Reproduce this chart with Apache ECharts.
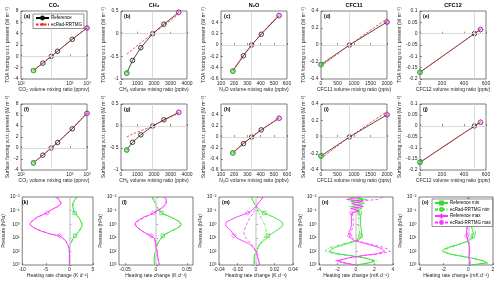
<!DOCTYPE html>
<html><head><meta charset="utf-8">
<script src="https://cdn.jsdelivr.net/npm/echarts@6/dist/echarts.min.js"></script>
<style>html,body{margin:0;padding:0;background:#fff}#c{width:500px;height:284px}</style>
</head><body><div id="c"></div>
<script>
// ---------------- DATA ----------------
const titles = ['CO₂', 'CH₄', 'N₂O', 'CFC11', 'CFC12'];
const xNames = ['CO₂ volume mixing ratio (ppmv)', 'CH₄ volume mixing ratio (ppbv)', 'N₂O volume mixing ratio (ppbv)', 'CFC11 volume mixing ratio (pptv)', 'CFC12 volume mixing ratio (pptv)'];
const hrNames = ['Heating rate change (K d⁻¹)', 'Heating rate change (K d⁻¹)', 'Heating rate change (K d⁻¹)', 'Heating rate change (mK d⁻¹)', 'Heating rate change (mK d⁻¹)'];
const panelLetters = ['(a)','(b)','(c)','(d)','(e)','(f)','(g)','(h)','(i)','(j)','(k)','(l)','(m)','(n)','(o)'];

const co2Conc = [180, 280, 415, 560, 1120, 2240];
const co2Present = 415;
const co2ToaRef = [-2.5, -1.2, 0, 0.9, 3.0, 5.0];
const co2ToaEc = [-2.45, -1.2, 0, 0.9, 3.05, 5.05];
const co2SfcRef = [-2.7, -1.3, 0, 1.0, 3.5, 6.3];
const co2SfcEc = [-2.65, -1.3, 0, 1.05, 3.6, 6.4];

const ch4Conc = [350, 700, 1200, 1921, 2600, 3500];
const ch4Present = 1921;
const ch4ToaRef = [-0.87, -0.59, -0.31, 0, 0.21, 0.47];
const ch4ToaEc = [-0.45, -0.35, -0.2, 0, 0.18, 0.43];
const ch4SfcRef = [-0.545, -0.37, -0.2, 0, 0.14, 0.31];
const ch4SfcEc = [-0.25, -0.18, -0.11, 0, 0.13, 0.29];

const n2oConc = [190, 270, 332, 405, 540];
const n2oPresent = 332;
const n2oToaRef = [-0.46, -0.19, 0, 0.19, 0.52];
const n2oToaEc = [-0.44, -0.18, 0, 0.2, 0.54];
const n2oSfcRef = [-0.29, -0.12, 0, 0.13, 0.34];
const n2oSfcEc = [-0.28, -0.11, 0, 0.13, 0.35];

const cfc11Conc = [0, 862, 2000];
const cfc11Present = 862;
const cfc11ToaRef = [-0.23, 0, 0.27];
const cfc11ToaEc = [-0.25, 0, 0.31];
const cfc11SfcRef = [-0.23, 0, 0.27];
const cfc11SfcEc = [-0.26, 0, 0.31];

const cfc12Conc = [0, 495, 550];
const cfc12Present = 495;
const cfc12ToaRef = [-0.17, 0, 0.018];
const cfc12ToaEc = [-0.17, 0, 0.019];
const cfc12SfcRef = [-0.165, 0, 0.017];
const cfc12SfcEc = [-0.165, 0, 0.018];

// pressure levels (hPa) for heating-rate profiles
const pLev = [0.01,0.015,0.02,0.03,0.05,0.07,0.1,0.15,0.2,0.3,0.5,0.7,1,1.5,2,3,5,7,10,15,20,30,50,70,100,150,200,300,500,700,1000];
const markIdx = [7, 17];

const kRefMin = [1.7,1.2,0.9,0.7,0.7,0.8,0.9,1.1,1.4,1.9,2.3,2.6,2.7,2.6,2.4,2.1,1.6,1.2,0.9,0.6,0.4,0.2,0.05,0,0,0,0,0,0,0,0];
const kEcMin  = [1.5,1.1,0.9,0.8,0.8,0.8,0.9,1.1,1.4,1.9,2.3,2.6,2.7,2.6,2.4,2.1,1.6,1.2,0.9,0.6,0.4,0.2,0.05,0,0,0,0,0,0,0,0];
const kRefMax = [-3.0,-2.3,-1.9,-1.7,-2.4,-3.3,-4.1,-4.7,-5.6,-6.8,-7.7,-8.2,-8.4,-7.9,-7.4,-6.2,-4.3,-2.1,-1.5,-0.9,-0.7,-0.4,-0.15,-0.05,0,0,0,0,0,0,0];
const kEcMax  = [-2.6,-2.0,-1.9,-1.9,-2.6,-3.4,-4.2,-4.8,-5.6,-6.7,-7.6,-8.1,-8.3,-7.9,-7.3,-6.1,-4.3,-2.2,-1.5,-0.9,-0.7,-0.4,-0.15,-0.05,0,0,0,0,0,0,0];

const lRefMin = [-0.007,-0.005,-0.003,-0.001,0.001,0.003,0.005,0.009,0.014,0.024,0.034,0.039,0.041,0.039,0.034,0.026,0.016,0.011,0.009,0.006,0.004,0.002,0.001,0,-0.001,-0.002,-0.002,-0.003,-0.003,-0.002,-0.002];
const lEcMin  = [-0.005,-0.004,-0.002,0,0.002,0.004,0.006,0.010,0.015,0.024,0.033,0.038,0.040,0.038,0.034,0.026,0.017,0.012,0.009,0.006,0.004,0.002,0.001,0,-0.001,-0.002,-0.002,-0.002,-0.003,-0.002,-0.002];
const lRefMax = [0.014,0.017,0.018,0.016,0.012,0.008,0.002,-0.004,-0.010,-0.020,-0.028,-0.033,-0.034,-0.032,-0.029,-0.023,-0.015,-0.008,-0.003,-0.002,-0.001,0,0,0.001,0.002,0.002,0.002,0.003,0.004,0.005,0.006];
const lEcMax  = [0.012,0.016,0.018,0.017,0.013,0.009,0.003,-0.003,-0.009,-0.018,-0.026,-0.031,-0.033,-0.032,-0.029,-0.024,-0.016,-0.009,-0.004,-0.002,-0.001,0,0,0.001,0.002,0.002,0.002,0.003,0.004,0.005,0.005];

const mRefMin = [-0.005,-0.004,-0.003,-0.002,0,0.002,0.005,0.009,0.013,0.019,0.025,0.028,0.029,0.028,0.026,0.022,0.017,0.013,0.012,0.009,0.007,0.004,0.002,0.001,0,-0.001,-0.002,-0.002,-0.002,-0.002,-0.002];
const mEcMin  = [-0.005,-0.004,-0.003,-0.001,0,0.001,0.002,0.003,0.004,0.005,0.007,0.008,0.009,0.010,0.011,0.011,0.011,0.010,0.009,0.007,0.006,0.004,0.003,0.001,0,-0.001,-0.002,-0.002,-0.002,-0.002,-0.002];
const mRefMax = [0.0075,0.006,0.004,0.002,0,-0.002,-0.005,-0.009,-0.014,-0.021,-0.028,-0.032,-0.033,-0.032,-0.030,-0.027,-0.025,-0.024,-0.021,-0.016,-0.012,-0.007,-0.003,-0.001,0,0.001,0.002,0.002,0.003,0.004,0.004];
const mEcMax  = [0.007,0.006,0.004,0.002,0.001,0,-0.002,-0.003,-0.004,-0.006,-0.008,-0.009,-0.010,-0.011,-0.012,-0.013,-0.013,-0.012,-0.011,-0.009,-0.007,-0.005,-0.003,-0.001,0,0.001,0.002,0.002,0.003,0.004,0.004];

const nRefMin = [-0.7,0.8,-0.5,0.9,-0.4,0.6,0.2,0.4,0.4,0.5,0.5,0.5,0.5,0.5,0.5,0.6,0.6,0.5,0.5,0.3,-0.3,-1.2,-2.2,-2.7,-2.9,-2.0,-0.7,0.9,2.0,1.4,0];
const nEcMin  = [-0.3,1.2,-0.8,0.5,-0.7,0.3,0.0,0.3,0.3,0.3,0.3,0.3,0.3,0.3,0.4,0.4,0.4,0.4,0.3,0.1,-0.6,-1.6,-2.7,-3.2,-3.3,-2.3,-0.8,1.0,2.2,1.5,0];
const nRefMax = [0.5,-1.0,0.8,-0.5,0.7,-0.6,0.3,-0.5,-0.4,-0.5,-0.5,-0.6,-0.5,-0.5,-0.6,-0.7,-0.8,-0.7,-0.6,-0.3,0.3,1.3,2.4,2.9,3.1,2.2,0.8,-0.8,-2.0,-1.2,0];
const nEcMax  = [2.9,2.4,0.4,-0.4,0.9,-0.3,0.1,-0.4,-0.3,-0.3,-0.3,-0.4,-0.3,-0.3,-0.4,-0.5,-0.6,-0.5,-0.4,-0.1,0.6,1.7,2.9,3.5,3.7,2.6,1.0,-0.8,-2.2,-1.4,0];

const oRefMin = [0,0,0,0,0,0,0,0.02,0.05,0.08,0.1,0.15,0.2,0.25,0.3,0.35,0.4,0.38,0.3,0.1,-0.2,-0.8,-1.6,-2.0,-2.1,-1.6,-0.9,0.2,1.2,1.5,0.2];
const oEcMin  = [0,0,0,0,0,0,0.02,0.05,0.1,0.15,0.2,0.3,0.35,0.45,0.5,0.55,0.6,0.5,0.4,0.15,-0.2,-0.7,-1.4,-1.8,-1.9,-1.5,-0.8,0.3,1.3,1.6,0.3];
const oRefMax = [0,0,0,0,0,0,0,-0.01,-0.02,-0.03,-0.05,-0.06,-0.08,-0.1,-0.12,-0.14,-0.15,-0.15,-0.12,-0.05,0,0.05,0.08,0.1,0.1,0.08,0.05,0.05,0.15,0.2,0.1];
const oEcMax  = [0,0,0,0,0,0,0,0,-0.01,-0.02,-0.03,-0.04,-0.05,-0.07,-0.09,-0.1,-0.1,-0.1,-0.08,-0.03,0.02,0.06,0.1,0.12,0.12,0.1,0.06,0.06,0.16,0.22,0.1];

// ---------------- CHART ----------------
const FONT = '"Liberation Sans", Arial, Helvetica, "DejaVu Sans", sans-serif';
const AX = '#262626';
const GREEN = '#33dd33', MAG = '#ff33ff';
const supMap = {'-':'⁻','0':'⁰','1':'¹','2':'²','3':'³','4':'⁴','5':'⁵','6':'⁶','7':'⁷','8':'⁸','9':'⁹'};
const logFmt = v => '10' + String(Math.round(Math.log10(v))).split('').map(c => supMap[c] || c).join('');
const numFmt = v => String(Math.round(v * 1e6) / 1e6);
const CLEAR = 'rgba(255,255,255,0)';

const col12Left = [21, 121, 221, 321, 420], col12W = 66;
const col3Left = [19, 119, 219, 319, 419], col3W = 74;
const rowTop = [11, 104, 197], rowH = [68, 66, 68];

const grids = [], xAxes = [], yAxes = [], series = [], graphics = [];

function axisBase(gi) {
  return {
    gridIndex: gi, nameLocation: 'middle',
    axisLine: {show: false},
    axisTick: {show: true, inside: true, length: 2, lineStyle: {color: AX, width: 0.5}},
    splitLine: {show: false},
    axisLabel: {fontSize: 5, color: AX, fontFamily: FONT, margin: 2.5, formatter: numFmt},
    nameTextStyle: {fontSize: 5, color: AX, fontFamily: FONT}
  };
}

const xCfg = [
  {type: 'log', logBase: 10, min: 100, max: 2240, axisLabel: {formatter: logFmt}},
  {type: 'value', min: 0, max: 4000, interval: 1000},
  {type: 'value', min: 100, max: 600, interval: 100},
  {type: 'value', min: 0, max: 2000, interval: 500},
  {type: 'value', min: 0, max: 600, interval: 200}
];
const n2oY = {min: -0.6, max: 0.6, axisLabel: {customValues: [-0.6, -0.4, -0.2, 0, 0.2, 0.4]}, axisTick: {customValues: [-0.6, -0.4, -0.2, 0, 0.2, 0.4]}};
const yToaCfg = [
  {min: -4, max: 8, interval: 2}, {min: -1, max: 0.5, interval: 0.5}, n2oY,
  {min: -0.4, max: 0.4, interval: 0.2}, {min: -0.2, max: 0.1, interval: 0.05}
];
const ySfcCfg = [
  {min: -4, max: 8, interval: 2}, {min: -1, max: 0.5, interval: 0.5}, n2oY,
  {min: -0.4, max: 0.4, interval: 0.2}, {min: -0.2, max: 0.1, interval: 0.05}
];
const yNameGap = [8, 11, 11, 11, 14];
const hrXCfg = [
  {min: -10, max: 5, interval: 5},
  {min: -0.06, max: 0.06, axisLabel: {customValues: [-0.05, 0, 0.05]}, axisTick: {customValues: [-0.05, 0, 0.05]}},
  {min: -0.04, max: 0.04, interval: 0.02},
  {min: -4, max: 4, interval: 2},
  {min: -4, max: 2, interval: 2}
];

function merge(a, b) {
  const r = Object.assign({}, a);
  for (const k in b) {
    if (b[k] && typeof b[k] === 'object' && !Array.isArray(b[k]) && a[k] && typeof a[k] === 'object') r[k] = merge(a[k], b[k]);
    else r[k] = b[k];
  }
  return r;
}

const forcing = [
  {conc: co2Conc, present: co2Present, toa: [co2ToaRef, co2ToaEc], sfc: [co2SfcRef, co2SfcEc]},
  {conc: ch4Conc, present: ch4Present, toa: [ch4ToaRef, ch4ToaEc], sfc: [ch4SfcRef, ch4SfcEc]},
  {conc: n2oConc, present: n2oPresent, toa: [n2oToaRef, n2oToaEc], sfc: [n2oSfcRef, n2oSfcEc]},
  {conc: cfc11Conc, present: cfc11Present, toa: [cfc11ToaRef, cfc11ToaEc], sfc: [cfc11SfcRef, cfc11SfcEc]},
  {conc: cfc12Conc, present: cfc12Present, toa: [cfc12ToaRef, cfc12ToaEc], sfc: [cfc12SfcRef, cfc12SfcEc]}
];
const profiles = [
  [kRefMin, kEcMin, kRefMax, kEcMax],
  [lRefMin, lEcMin, lRefMax, lEcMax],
  [mRefMin, mEcMin, mRefMax, mEcMax],
  [nRefMin, nEcMin, nRefMax, nEcMax],
  [oRefMin, oEcMin, oRefMax, oEcMax]
];

function addForcingPanel(row, c, ref, ec, yCfg, yName) {
  const gi = grids.length;
  const left = col12Left[c], top = rowTop[row];
  grids.push({left: left, top: top, width: col12W, height: rowH[row], show: true, borderColor: AX, borderWidth: 0.6});
  xAxes.push(merge(merge(axisBase(gi), {name: xNames[c], nameGap: 8}), xCfg[c]));
  yAxes.push(merge(axisBase(gi), Object.assign({type: 'value', name: yName, nameGap: yNameGap[c]}, yCfg[c])));
  const f = forcing[c];
  const n = f.conc.length;
  const isA = (row === 0 && c === 0);
  series.push({type: 'line', xAxisIndex: gi, yAxisIndex: gi, z: 1, silent: true, symbol: 'none',
    data: f.conc.map((x, i) => [x, ref[i]]), lineStyle: {opacity: 0},
    markLine: {silent: true, symbol: 'none', label: {show: false}, animation: false,
      lineStyle: {color: '#d0d0d0', width: 0.8, type: 'solid'},
      data: [{xAxis: f.present}, {yAxis: 0}]}});
  series.push({name: isA ? 'Reference' : 'ref' + gi, type: 'line', xAxisIndex: gi, yAxisIndex: gi, z: 3,
    data: f.conc.map((x, i) => [x, ref[i]]), symbol: 'circle', symbolSize: 4.5, showAllSymbol: true,
    lineStyle: {color: '#000', width: 0.7}, itemStyle: {color: CLEAR, borderColor: '#111', borderWidth: 0.8}});
  series.push({name: isA ? 'ecRad-RRTMG' : 'ec' + gi, type: 'line', xAxisIndex: gi, yAxisIndex: gi, z: 4,
    data: f.conc.map((x, i) => [x, ec[i]]), symbol: 'none',
    lineStyle: {color: '#ff2020', width: 0.8, type: [2.5, 1.5]}, itemStyle: {color: '#ff2020'}});
  series.push({type: 'scatter', xAxisIndex: gi, yAxisIndex: gi, z: 5, data: [[f.conc[0], ref[0]]],
    symbol: 'rect', symbolSize: 4, itemStyle: {color: 'rgba(80,230,80,0.55)', borderColor: GREEN, borderWidth: 0.7}});
  series.push({type: 'scatter', xAxisIndex: gi, yAxisIndex: gi, z: 5, data: [[f.conc[n - 1], ref[n - 1]]],
    symbol: 'diamond', symbolSize: 5.5, itemStyle: {color: 'rgba(255,120,255,0.35)', borderColor: MAG, borderWidth: 0.8}});
  graphics.push({type: 'text', left: left + 3, top: top + 3, z: 100,
    style: {text: panelLetters[gi], font: 'bold 5px ' + FONT, fill: '#000'}});
}

for (let c = 0; c < 5; c++) addForcingPanel(0, c, forcing[c].toa[0], forcing[c].toa[1], yToaCfg, 'TOA forcing w.r.t. present (W m⁻²)');
for (let c = 0; c < 5; c++) addForcingPanel(1, c, forcing[c].sfc[0], forcing[c].sfc[1], ySfcCfg, 'Surface forcing w.r.t. present (W m⁻²)');

const profNamesO = ['Reference min', 'ecRad-RRTMG min', 'Reference max', 'ecRad-RRTMG max'];
for (let c = 0; c < 5; c++) {
  const gi = grids.length;
  const left = col3Left[c], top = rowTop[2];
  grids.push({left: left, top: top, width: col3W, height: rowH[2], show: true, borderColor: AX, borderWidth: 0.6});
  xAxes.push(merge(merge(axisBase(gi), {type: 'value', name: hrNames[c], nameGap: 8}), hrXCfg[c]));
  yAxes.push(merge(axisBase(gi), {type: 'log', logBase: 10, min: 0.01, max: 1000, inverse: true,
    name: 'Pressure (hPa)', nameGap: 13, axisLabel: {formatter: logFmt}}));
  const pr = profiles[c];
  series.push({type: 'line', xAxisIndex: gi, yAxisIndex: gi, z: 1, silent: true, symbol: 'none',
    data: pr[0].map((v, i) => [v, pLev[i]]), lineStyle: {opacity: 0},
    markLine: {silent: true, symbol: 'none', label: {show: false}, animation: false,
      lineStyle: {color: '#d6d6d6', width: 1.6, type: 'solid'}, data: [{xAxis: 0}]}});
  const styles = [
    {color: GREEN, type: 'solid', sym: 'rect', size: 3.5},
    {color: GREEN, type: [3, 1.5, 1, 1.5], sym: 'none', size: 3},
    {color: MAG, type: 'solid', sym: 'diamond', size: 4.5},
    {color: MAG, type: [3, 2], sym: 'none', size: 3}
  ];
  for (let s = 0; s < 4; s++) {
    const st = styles[s];
    series.push({name: c === 4 ? profNamesO[s] : 'p' + gi + '_' + s, type: 'line', xAxisIndex: gi, yAxisIndex: gi, z: 3 + s,
      symbol: st.sym, symbolSize: st.size, showAllSymbol: true,
      data: pr[s].map((v, i) => (st.sym !== 'none' && markIdx.includes(i)) ? [v, pLev[i]] : {value: [v, pLev[i]], symbol: 'none'}),
      lineStyle: {color: st.color, width: s % 2 === 0 ? 0.9 : 0.8, type: st.type},
      itemStyle: {color: CLEAR, borderColor: st.color, borderWidth: 0.7}});
  }
  graphics.push({type: 'text', left: left + 3, top: top + 3, z: 100,
    style: {text: panelLetters[gi], font: 'bold 5px ' + FONT, fill: '#000'}});
}

for (let c = 0; c < 5; c++) {
  graphics.push({type: 'text', x: col12Left[c] + col12W / 2, y: 2, z: 100,
    style: {text: titles[c], font: 'bold 5.5px ' + FONT, fill: '#000', textAlign: 'center', textVerticalAlign: 'top'}});
}

const legendCommon = {orient: 'vertical', itemWidth: 13, itemHeight: 3.5, itemGap: 1.5, padding: [1.5, 2, 1.5, 2],
  backgroundColor: '#fff', borderColor: AX, borderWidth: 0.5,
  textStyle: {fontSize: 4.5, fontFamily: FONT, color: '#000', padding: [0, 0, 0, -3]}, selectedMode: false, z: 50};

const chart = echarts.init(document.getElementById('c'));
chart.setOption({
  animation: false,
  textStyle: {fontFamily: FONT},
  grid: grids, xAxis: xAxes, yAxis: yAxes, series: series, graphic: graphics,
  legend: [
    Object.assign({}, legendCommon, {left: 33, top: 14, data: ['Reference', 'ecRad-RRTMG']}),
    Object.assign({}, legendCommon, {left: 432, top: 199, data: profNamesO})
  ]
});
</script>
</body></html>
